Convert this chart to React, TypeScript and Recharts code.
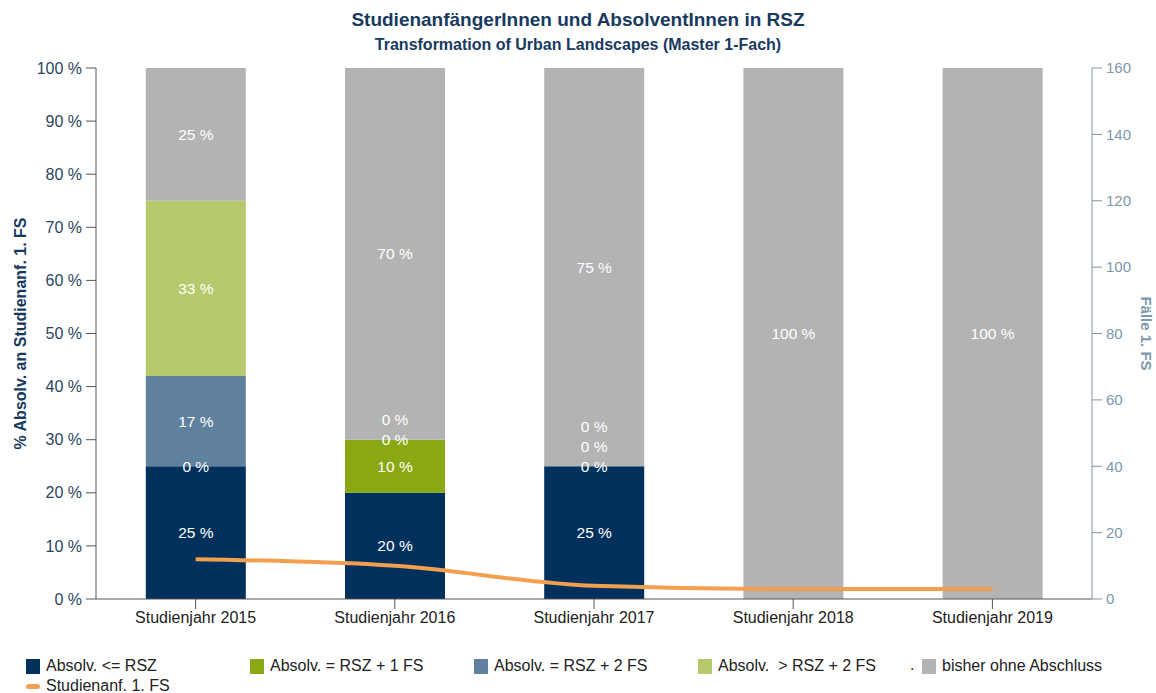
import { ComposedChart, Bar, Line, XAxis, YAxis, LabelList } from "recharts";

const years = ["Studienjahr 2015", "Studienjahr 2016", "Studienjahr 2017", "Studienjahr 2018", "Studienjahr 2019"];
const absolvRsz = [25, 20, 25, 0, 0];
const absolvRsz1 = [0, 10, 0, 0, 0];
const absolvRsz2 = [17, 0, 0, 0, 0];
const absolvOver2 = [33, 0, 0, 0, 0];
const bisherOhne = [25, 70, 75, 100, 100];
const studienanf = [12, 10, 4, 3, 3];

const leftTicks = [0, 10, 20, 30, 40, 50, 60, 70, 80, 90, 100];
const rightTicks = [0, 20, 40, 60, 80, 100, 120, 140, 160];

const stackKeys = ["rsz", "rsz1", "rsz2", "over2", "bisher"];
const seriesArrays = [absolvRsz, absolvRsz1, absolvRsz2, absolvOver2, bisherOhne];

const data = years.map((name, i) => ({
  name,
  rsz: absolvRsz[i],
  rsz1: absolvRsz1[i],
  rsz2: absolvRsz2[i],
  over2: absolvOver2[i],
  bisher: bisherOhne[i],
  anf: studienanf[i],
}));

const series = [
  { key: "rsz", label: "Absolv. <= RSZ", color: "#00315c" },
  { key: "rsz1", label: "Absolv. = RSZ + 1 FS", color: "#8aa814" },
  { key: "rsz2", label: "Absolv. = RSZ + 2 FS", color: "#5f819e" },
  { key: "over2", label: "Absolv.\u00a0 > RSZ + 2 FS", color: "#b6c96c" },
  { key: "bisher", label: "bisher ohne Abschluss", color: "#b3b3b3" },
];

const FONT = "'Liberation Sans', Arial, sans-serif";

// Recharts skips zero-height segments, so all labels of a column are drawn
// from the top segment, using its height to get the scale.
// Zero segments on the same boundary get pushed up so they don't overlap.
function StackLabels(props: any) {
  const { x, y, width, height, index } = props;
  const top = bisherOhne[index];
  if (!top) return null;
  const unit = height / top;
  let below = 0;
  for (let s = 0; s < 4; s++) below += seriesArrays[s][index];
  const bottom = y + height + below * unit;
  const out: any[] = [];
  let base = 0;
  let shift = 0;
  seriesArrays.forEach((arr, s) => {
    const v = arr[index];
    if (v === 0) {
      if (base > 0) {
        out.push(
          <text key={s} x={x + width / 2} y={bottom - base * unit - shift} fill="#fff" fontSize={15.5}
            fontFamily={FONT} textAnchor="middle" dominantBaseline="central">
            {v} %
          </text>
        );
        shift += 20;
      }
    } else {
      shift = 0;
      out.push(
        <text key={s} x={x + width / 2} y={bottom - (base + v / 2) * unit} fill="#fff" fontSize={15.5}
          fontFamily={FONT} textAnchor="middle" dominantBaseline="central">
          {v} %
        </text>
      );
    }
    base += v;
  });
  return <g>{out}</g>;
}

export default function App() {
  return (
    <div style={{ position: "relative", width: 1156, height: 693, fontFamily: FONT, background: "#fff" }}>
      <style>{"body{margin:0}"}</style>
      <div style={{ position: "absolute", top: 9, width: 1156, textAlign: "center", fontWeight: "bold", fontSize: 19, color: "#173a5e" }}>
        StudienanfängerInnen und AbsolventInnen in RSZ
      </div>
      <div style={{ position: "absolute", top: 36, width: 1156, textAlign: "center", fontWeight: "bold", fontSize: 16, color: "#173a5e" }}>
        Transformation of Urban Landscapes (Master 1-Fach)
      </div>
      <ComposedChart
        width={1156}
        height={693}
        data={data}
        margin={{ top: 68, right: 0, bottom: 64, left: 0 }}
        barCategoryGap="25%"
      >
        <XAxis
          dataKey="name"
          height={30}
          tickSize={10}
          tickMargin={3}
          stroke="#555"
          tick={{ fill: "#222", fontSize: 16, fontFamily: FONT }}
        />
        <YAxis
          yAxisId="left"
          domain={[0, 100]}
          ticks={leftTicks}
          width={96}
          tickSize={10}
          tickMargin={4}
          stroke="#555"
          tickFormatter={(v: number) => `${v} %`}
          tick={{ fill: "#2b4560", fontSize: 16, fontFamily: FONT }}
          label={{
            value: "% Absolv. an Studienanf. 1. FS",
            angle: -90,
            position: "insideLeft",
            offset: 20,
            style: { textAnchor: "middle", fill: "#173a5e", fontWeight: "bold", fontSize: 16, fontFamily: FONT },
          }}
        />
        <YAxis
          yAxisId="right"
          orientation="right"
          domain={[0, 160]}
          ticks={rightTicks}
          width={64}
          tickSize={10}
          tickMargin={4}
          stroke="#7d97ad"
          tick={{ fill: "#7d97ad", fontSize: 15, fontFamily: FONT }}
          label={{
            value: "Fälle 1. FS",
            angle: 90,
            position: "insideRight",
            offset: 10,
            style: { textAnchor: "middle", fill: "#7d97ad", fontWeight: "bold", fontSize: 15, fontFamily: FONT },
          }}
        />
        {series.map((s, i) => (
          <Bar
            key={s.key}
            yAxisId="left"
            dataKey={stackKeys[i]}
            stackId="a"
            fill={s.color}
            isAnimationActive={false}
          >
            {i === 4 && <LabelList dataKey="bisher" content={StackLabels} />}
          </Bar>
        ))}
        <Line
          yAxisId="right"
          type="monotone"
          dataKey="anf"
          stroke="#f2a04f"
          strokeWidth={4}
          dot={false}
          isAnimationActive={false}
        />
      </ComposedChart>
      <div style={{ position: "absolute", left: 26, top: 656, fontSize: 16, color: "#222" }}>
        {series.map((s, i) => (
          <div key={s.key} style={{ position: "absolute", left: i * 224, top: 0, whiteSpace: "nowrap", display: "flex", alignItems: "center", height: 20 }}>
            {i === 4 && <span style={{ position: "absolute", left: -12, top: 0 }}>.</span>}
            <span style={{ display: "inline-block", width: 14, height: 15, background: s.color, marginRight: 6 }} />
            {s.label}
          </div>
        ))}
        <div style={{ position: "absolute", left: 0, top: 20, whiteSpace: "nowrap", display: "flex", alignItems: "center", height: 20 }}>
          <span style={{ display: "inline-block", width: 14, height: 5, borderRadius: 3, background: "#f2a04f", marginRight: 6 }} />
          Studienanf. 1. FS
        </div>
      </div>
    </div>
  );
}
